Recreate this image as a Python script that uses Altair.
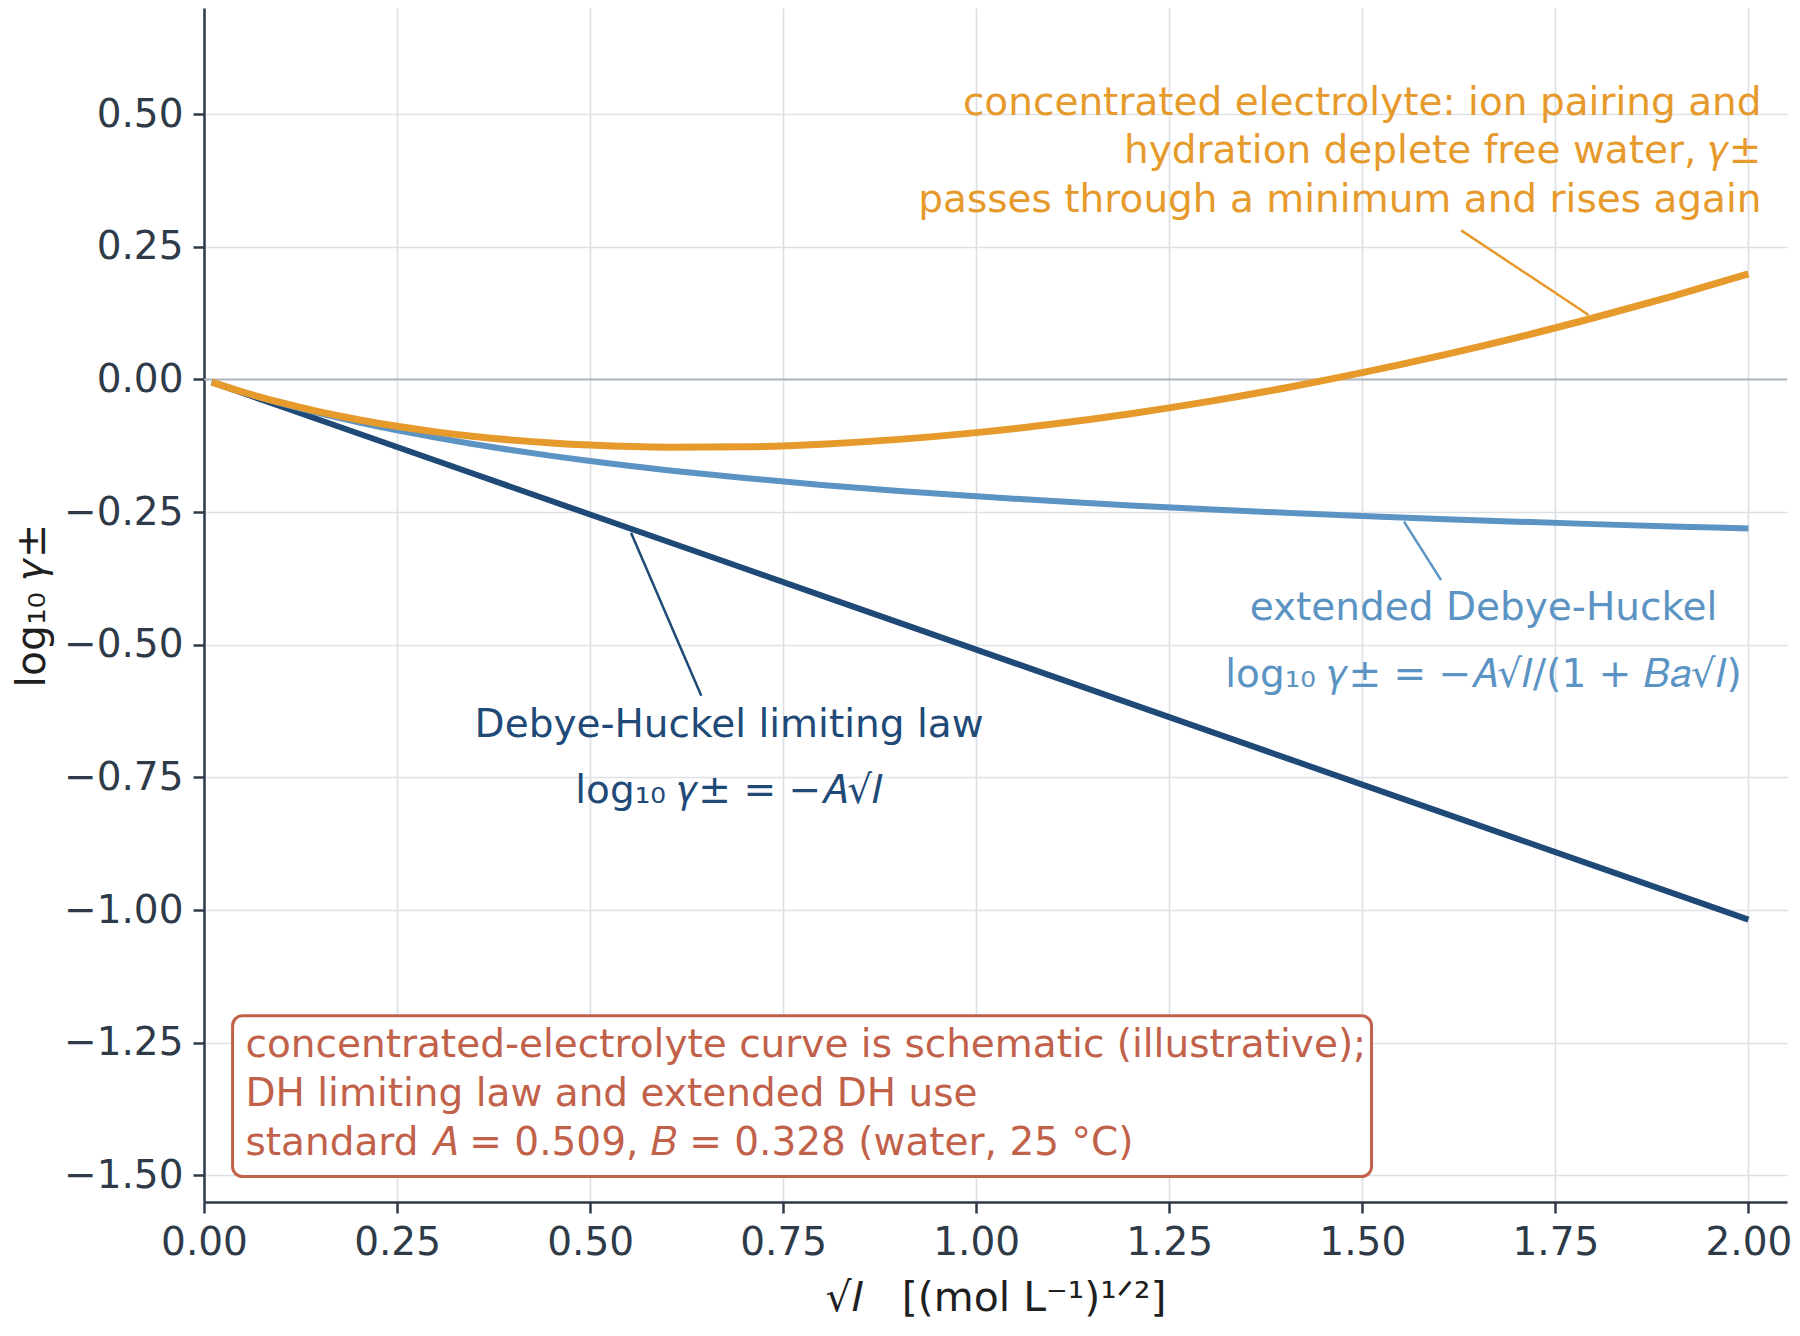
import altair as alt
import pandas as pd

# ---- data ----
sqrt_I = [0.01, 0.05, 0.1, 0.15, 0.2, 0.25, 0.3, 0.35, 0.4, 0.45, 0.5, 0.6, 0.7, 0.8, 0.9,
          1.0, 1.1, 1.2, 1.3, 1.4, 1.5, 1.6, 1.7, 1.8, 1.9, 2.0]
dh_limiting = [-0.0051, -0.0255, -0.0509, -0.0764, -0.1018, -0.1273, -0.1527, -0.1782, -0.2036,
               -0.2291, -0.2545, -0.3054, -0.3563, -0.4072, -0.4581, -0.509, -0.5599, -0.6108,
               -0.6617, -0.7126, -0.7635, -0.8144, -0.8653, -0.9162, -0.9671, -1.018]
dh_extended = [-0.0050, -0.0239, -0.0450, -0.0638, -0.0806, -0.0958, -0.1096, -0.1221, -0.1335,
               -0.1440, -0.1537, -0.1709, -0.1857, -0.1987, -0.2101, -0.2202, -0.2292, -0.2373,
               -0.2446, -0.2512, -0.2572, -0.2628, -0.2679, -0.2726, -0.2769, -0.2809]
concentrated = [-0.0050, -0.0236, -0.0438, -0.0611, -0.0758, -0.0883, -0.0988, -0.1074, -0.1143,
                -0.1197, -0.1237, -0.1277, -0.1269, -0.1219, -0.1129, -0.1002, -0.0840, -0.0645,
                -0.0418, -0.0160, 0.0128, 0.0444, 0.0789, 0.1163, 0.1563, 0.1991]

x_ticks = [0.0, 0.25, 0.5, 0.75, 1.0, 1.25, 1.5, 1.75, 2.0]
y_ticks = [-1.5, -1.25, -1.0, -0.75, -0.5, -0.25, 0.0, 0.25, 0.5]

# annotation texts and their anchors (data units)
orange_text = ["concentrated electrolyte: ion pairing and",
               "hydration deplete free water, 𝛾±",
               "passes through a minimum and rises again"]
orange_text_x = [2.017, 2.017, 2.017]
orange_text_y = [0.4975, 0.407, 0.315]

dark_text = ["Debye-Huckel limiting law", "log₁₀ 𝛾± = −𝐴√𝐼"]
dark_text_x = [0.680, 0.680]
dark_text_y = [-0.674, -0.799]

light_text = ["extended Debye-Huckel", "log₁₀ 𝛾± = −𝐴√𝐼/(1 + 𝐵𝑎√𝐼)"]
light_text_x = [1.657, 1.657]
light_text_y = [-0.4536, -0.580]

box_text = ["concentrated-electrolyte curve is schematic (illustrative);",
            "DH limiting law and extended DH use",
            "standard 𝐴 = 0.509, 𝐵 = 0.328 (water, 25 °C)"]
box_text_x = [0.0537, 0.0537, 0.0537]
box_text_y = [-1.276, -1.370, -1.462]
box_x = [0.037, 1.512]
box_y = [-1.199, -1.502]

# leader lines: (x_start, y_start, x_end, y_end)
leader_x1 = [1.628, 1.554, 0.553]
leader_y1 = [0.281, -0.268, -0.289]
leader_x2 = [1.793, 1.602, 0.644]
leader_y2 = [0.1216, -0.378, -0.596]

C_DARK = "#1f4a78"
C_LIGHT = "#5b93c3"
C_ORANGE = "#e69a2c"
C_RED = "#c1614a"
C_AXIS = "#2e3a48"
FONT = "DejaVu Sans"
NB = "\u00a0"

X_TITLE = "√𝐼" + NB * 3 + "[(mol L⁻¹)¹ᐟ²]"
Y_TITLE = "log₁₀ 𝛾±"

xscale = alt.Scale(domain=[0, 2.05], nice=False, zero=False)
yscale = alt.Scale(domain=[-1.55, 0.7], nice=False, zero=False)

xaxis = alt.Axis(values=x_ticks, format=".2f", title=X_TITLE, grid=True, labelFlush=False)
yaxis = alt.Axis(values=y_ticks, format=".2f", title=Y_TITLE, grid=True, labelFlush=False)


def X(field):
    return alt.X(f"{field}:Q", scale=xscale, axis=xaxis, title=X_TITLE)


def Y(field):
    return alt.Y(f"{field}:Q", scale=yscale, axis=yaxis, title=Y_TITLE)


curves = pd.DataFrame({"x": sqrt_I, "dh": dh_limiting, "ext": dh_extended, "conc": concentrated})

zero = alt.Chart(pd.DataFrame({"y0": [0.0]})).mark_rule(color="#aeb6bf", strokeWidth=2).encode(
    y=Y("y0"))

line_dh = alt.Chart(curves).mark_line(color=C_DARK, strokeWidth=6).encode(x=X("x"), y=Y("dh"))
line_ext = alt.Chart(curves).mark_line(color=C_LIGHT, strokeWidth=6, interpolate="monotone").encode(
    x=X("x"), y=Y("ext"))
line_conc = alt.Chart(curves).mark_line(color=C_ORANGE, strokeWidth=7, interpolate="monotone").encode(
    x=X("x"), y=Y("conc"))

leaders = pd.DataFrame({"x1": leader_x1, "y1": leader_y1, "x2": leader_x2, "y2": leader_y2,
                        "c": [C_ORANGE, C_LIGHT, C_DARK]})
leader_rules = alt.Chart(leaders).mark_rule(strokeWidth=2.5).encode(
    x=X("x1"), y=Y("y1"), x2="x2:Q", y2="y2:Q", color=alt.Color("c:N", scale=None))

orange_df = pd.DataFrame({"t": orange_text, "x": orange_text_x, "y": orange_text_y})
orange_labels = alt.Chart(orange_df).mark_text(
    align="right", baseline="alphabetic", font=FONT, fontSize=39, color=C_ORANGE).encode(
    x=X("x"), y=Y("y"), text="t:N")

center_df = pd.DataFrame({"t": dark_text + light_text,
                          "x": dark_text_x + light_text_x,
                          "y": dark_text_y + light_text_y,
                          "c": [C_DARK, C_DARK, C_LIGHT, C_LIGHT]})
center_labels = alt.Chart(center_df).mark_text(
    align="center", baseline="alphabetic", font=FONT, fontSize=39).encode(
    x=X("x"), y=Y("y"), text="t:N", color=alt.Color("c:N", scale=None))

box_df = pd.DataFrame({"x1": [box_x[0]], "x2": [box_x[1]], "y1": [box_y[0]], "y2": [box_y[1]]})
box = alt.Chart(box_df).mark_rect(fill="white", stroke=C_RED, strokeWidth=3, cornerRadius=10).encode(
    x=X("x1"), x2="x2:Q", y=Y("y1"), y2="y2:Q")

box_df_t = pd.DataFrame({"t": box_text, "x": box_text_x, "y": box_text_y})
box_labels = alt.Chart(box_df_t).mark_text(
    align="left", baseline="alphabetic", font=FONT, fontSize=39, color=C_RED).encode(
    x=X("x"), y=Y("y"), text="t:N")

chart = alt.layer(
    zero, line_dh, line_ext, line_conc, leader_rules, orange_labels, center_labels, box, box_labels
).properties(
    width=1583, height=1194,
    padding={"left": 196, "top": 0, "right": 4, "bottom": 120},
    autosize=alt.AutoSizeParams(type="none"),
    background="white",
).configure_view(
    stroke=None
).configure_axis(
    labelFont=FONT, labelFontSize=39, labelColor=C_AXIS,
    titleFont=FONT, titleFontSize=41, titleColor="#1f1f1f", titleFontWeight="normal",
    domainColor=C_AXIS, domainWidth=2.5,
    tickColor=C_AXIS, tickWidth=2.5, tickSize=11,
    gridColor="#dde1e5", gridWidth=1.7,
    labelPadding=10,
).configure_axisX(
    titlePadding=16,
).configure_axisY(
    titlePadding=10,
)

chart.save("out.html", embed_options={"renderer": "svg", "actions": False})
